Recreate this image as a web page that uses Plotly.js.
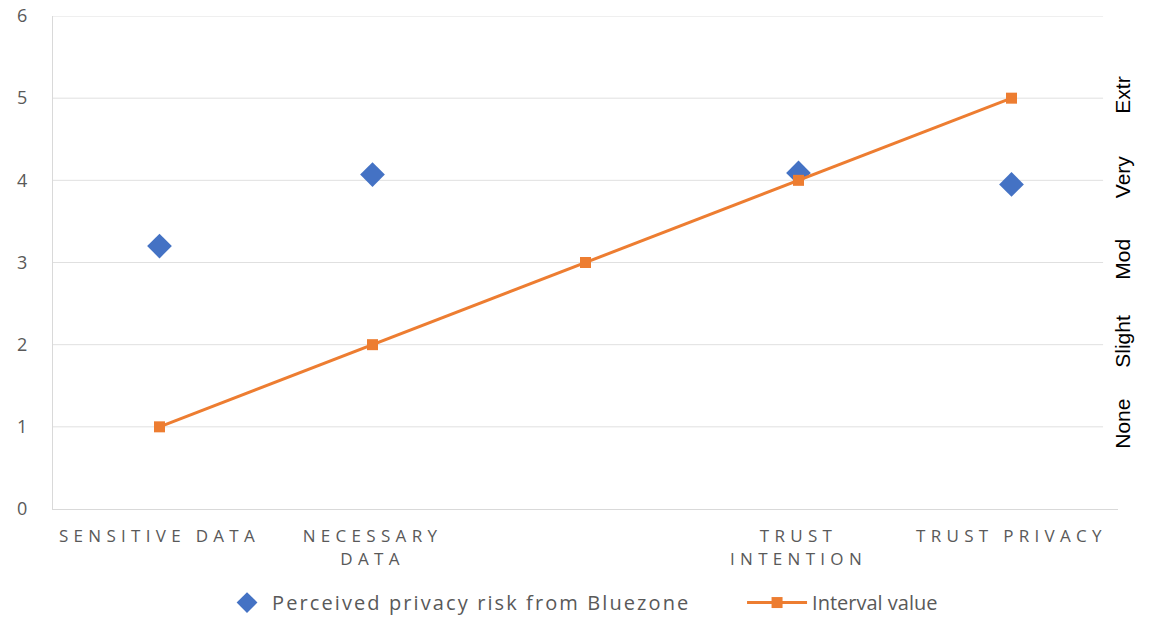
<!DOCTYPE html>
<html>
<head>
<meta charset="utf-8">
<script src="https://cdn.plot.ly/plotly-3.0.1.min.js"></script>
<style>
  html, body { margin: 0; padding: 0; background: #fff; }
  #chart { width: 1151px; height: 618px; }
  .xtick text { letter-spacing: 5.3px; }
  .legendtext { letter-spacing: 2.1px; }
</style>
</head>
<body>
<div id="chart"></div>
<script>
// Categories along the horizontal axis (the middle one carries no label)
const categories = ["SENSITIVE DATA", "NECESSARY<br>DATA", "", "TRUST<br>INTENTION", "TRUST PRIVACY"];
const categoryIndex = [0, 1, 2, 3, 4];

// Perceived privacy risk (no value for the middle category)
const riskIndex = [0, 1, 3, 4];
const riskValues = [3.2, 4.07, 4.09, 3.95];

// Reference scale points
const intervalValues = [1, 2, 3, 4, 5];

// Verbal labels of the scale, shown on the right
const scaleTicks = [1, 2, 3, 4, 5];
const scaleLabels = ["None", "Slight", "Mod", "Very", "Extr"];

// Horizontal gridlines stop a little short of the right end of the x axis
const gridLevels = [1, 2, 3, 4, 5, 6];
const gridShapes = gridLevels.map(v => ({
  type: "line", xref: "paper", yref: "y",
  x0: 0, x1: 0.986, y0: v, y1: v,
  line: { color: "#e0e0e0", width: 1 },
  layer: "below"
}));

const traces = [
  {
    x: riskIndex,
    y: riskValues,
    type: "scatter",
    mode: "markers",
    name: "Perceived privacy risk from Bluezone",
    legend: "legend",
    marker: { symbol: "diamond", size: 19, color: "#4472C4" }
  },
  {
    x: categoryIndex,
    y: intervalValues,
    type: "scatter",
    mode: "lines+markers",
    name: "Interval value",
    legend: "legend2",
    line: { color: "#ED7D31", width: 3 },
    marker: { symbol: "square", size: 11, color: "#ED7D31" }
  },
  {
    x: [categoryIndex[0]],
    y: [scaleTicks[0]],
    yaxis: "y2",
    type: "scatter",
    mode: "markers",
    marker: { opacity: 0 },
    showlegend: false,
    hoverinfo: "skip"
  }
];

const legendFont = { size: 20, color: "#595959", family: "Open Sans, sans-serif" };

const layout = {
  width: 1151,
  height: 618,
  margin: { l: 53, r: 33, t: 16, b: 109, autoexpand: false },
  paper_bgcolor: "#ffffff",
  plot_bgcolor: "#ffffff",
  font: { family: "Open Sans, sans-serif", color: "#595959" },
  shapes: gridShapes,
  xaxis: {
    range: [-0.5, 4.5],
    tickmode: "array",
    tickvals: categoryIndex,
    ticktext: categories,
    showgrid: false,
    zeroline: false,
    showline: true,
    linecolor: "#d9d9d9",
    linewidth: 1,
    ticks: "",
    ticklabelstandoff: 12,
    tickfont: { size: 17, color: "#595959", family: "Open Sans, sans-serif" },
    fixedrange: true
  },
  yaxis: {
    range: [0, 6],
    dtick: 1,
    showgrid: false,
    zeroline: false,
    showline: true,
    linecolor: "#d9d9d9",
    ticks: "",
    ticklabelstandoff: 21,
    tickfont: { size: 18, color: "#595959", family: "Open Sans, sans-serif" },
    fixedrange: true
  },
  yaxis2: {
    overlaying: "y",
    side: "right",
    range: [0, 6],
    tickmode: "array",
    tickvals: scaleTicks,
    ticktext: scaleLabels,
    tickangle: -90,
    showgrid: false,
    zeroline: false,
    showline: false,
    ticks: "",
    ticklabelstandoff: -10,
    tickfont: { size: 21, color: "#000000", family: "Liberation Sans, Arial, sans-serif" },
    fixedrange: true
  },
  showlegend: true,
  legend: {
    orientation: "h",
    xref: "container",
    yref: "container",
    x: 0.1929,
    xanchor: "left",
    y: 0.025,
    yanchor: "middle",
    font: legendFont,
    itemwidth: 40
  },
  legend2: {
    orientation: "h",
    xref: "container",
    yref: "container",
    x: 0.6447,
    xanchor: "left",
    y: 0.025,
    yanchor: "middle",
    font: legendFont,
    itemwidth: 60
  }
};

Plotly.newPlot("chart", traces, layout, { displayModeBar: false, staticPlot: true });
</script>
</body>
</html>
